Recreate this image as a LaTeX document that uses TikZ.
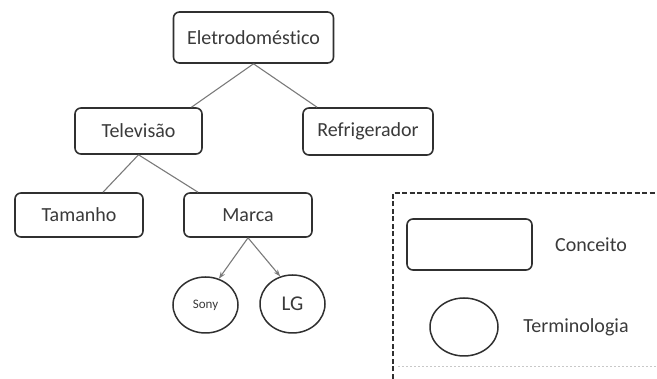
\documentclass[tikz,border=0pt]{standalone}
\usepackage{fontspec}
\setmainfont[Ligatures={NoCommon}]{Carlito}
\usetikzlibrary{shapes.geometric,arrows.meta}
\definecolor{ink}{HTML}{303030}
\definecolor{txt}{HTML}{3A3A3A}
\definecolor{link}{HTML}{7A7A7A}
\definecolor{faint}{HTML}{C8C8C8}
\tikzset{
  concept/.style={draw=ink, line width=1.6pt, rounded corners=6pt, fill=white,
    inner sep=0pt, text=txt, font=\fontsize{20}{24}\selectfont},
  term/.style={ellipse, draw=ink, line width=1.5pt, fill=white, inner sep=0pt,
    text=txt, font=\fontsize{20}{24}\selectfont},
  label/.style={inner sep=0pt, text=txt, font=\fontsize{20}{24}\selectfont},
  link/.style={draw=link, line width=1.1pt},
  arrowlink/.style={link, -{Stealth[length=7pt,width=5pt]}},
  frame/.style={draw=ink, line width=2.2pt, dash pattern=on 5pt off 2.5pt}
}
\begin{document}
\begin{tikzpicture}[x=1pt,y=-1pt]
\useasboundingbox (0,0) rectangle (657,379);

% concept tree
\node[concept, minimum width=160pt, minimum height=51pt] (eletro) at (253.5,37.5) {Eletrodoméstico};
\node[concept, minimum width=127pt, minimum height=46pt] (tv) at (138.5,131) {Televisão};
\node[concept, minimum width=130pt, minimum height=47pt] (ref) at (368,131.5) {Refrigerador};
\node[concept, minimum width=128pt, minimum height=44pt] (tam) at (79,215) {Tamanho};
\node[concept, minimum width=128pt, minimum height=44pt] (marca) at (248,215) {Marca};

% terminology leaves
\node[term, minimum width=65pt, minimum height=56pt, font=\fontsize{13}{15}\selectfont] (sony) at (205.5,305) {Sony};
\node[term, minimum width=65pt, minimum height=58pt, font=\fontsize{21}{25}\selectfont] (lg) at (292.5,304) {LG};

% connectors
\draw[link] (eletro.south) -- ([xshift=53pt]tv.north);
\draw[link] (eletro.south) -- ([xshift=-51pt]ref.north);
\draw[link] (tv.south) -- ([xshift=24pt]tam.north);
\draw[link] (tv.south) -- ([xshift=-50pt]marca.north);
\draw[arrowlink] (marca.south) -- (sony.63);
\draw[arrowlink] (marca.south) -- (lg.114);

% legend
\coordinate (fbl) at (393,379);
\coordinate (ftl) at (393,193);
\coordinate (ftr) at (657,193);
\draw[frame] (fbl) -- (ftl) -- (ftr);
\draw[faint, line width=1pt, dash pattern=on 2pt off 2pt] (398,367) -- (657,367);

\node[concept, minimum width=125pt, minimum height=51pt] (lgrect) at (469.5,244.5) {};
\node[label] (conceito) at (591,245) {Conceito};
\node[term, minimum width=68pt, minimum height=58pt] (lgell) at (464,327) {};
\node[label] (termino) at (576,327) {Terminologia};
\end{tikzpicture}
\end{document}
